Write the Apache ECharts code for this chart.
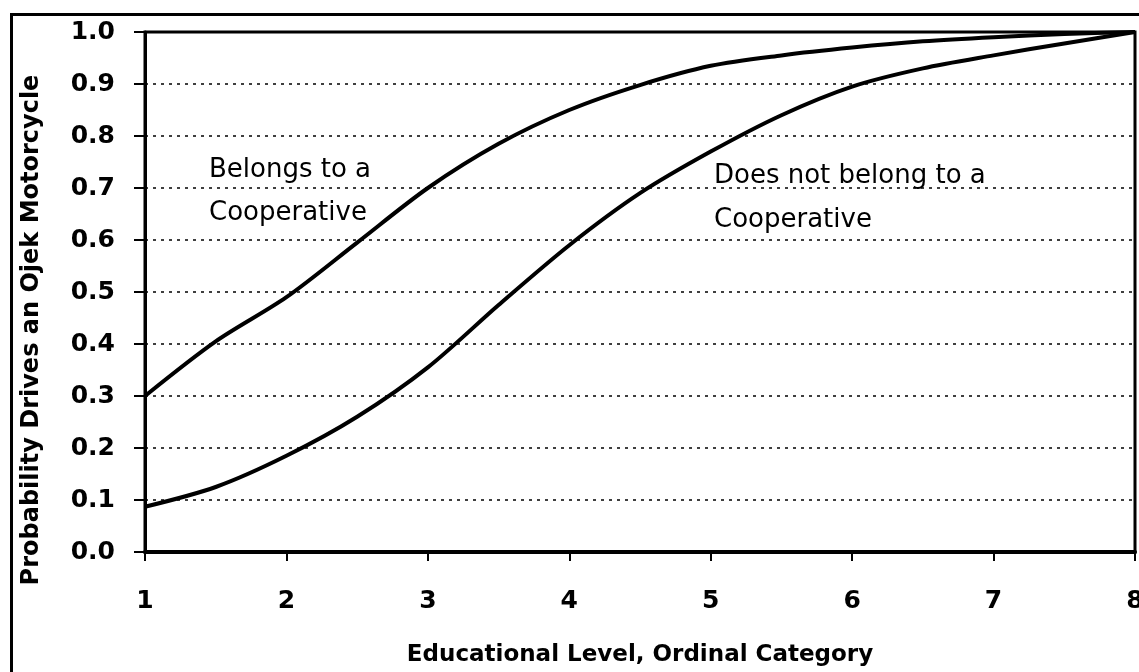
<!DOCTYPE html>
<html>
<head>
<meta charset="utf-8">
<script src="https://cdn.jsdelivr.net/npm/echarts@6/dist/echarts.min.js"></script>
<style>
html,body{margin:0;padding:0;background:#fff;}
#chart{width:1139px;height:672px;}
</style>
</head>
<body>
<div id="chart"></div>
<script>
const educationLevels = [1, 1.5, 2, 2.5, 3, 3.5, 4, 4.5, 5, 5.5, 6, 6.5, 7, 7.5, 8];
const belongsCoop = [0.30, 0.405, 0.49, 0.595, 0.70, 0.785, 0.85, 0.898, 0.935, 0.955, 0.97, 0.982, 0.99, 0.996, 1.0];
const notBelongsCoop = [0.087, 0.125, 0.185, 0.26, 0.355, 0.475, 0.59, 0.69, 0.77, 0.84, 0.895, 0.93, 0.955, 0.978, 1.0];
const xTitle = 'Educational Level, Ordinal Category';
const yTitle = 'Probability Drives an Ojek Motorcycle';
const labelBelongs = ['Belongs to a', 'Cooperative'];
const labelNotBelongs = ['Does not belong to a', 'Cooperative'];

const toPairs = (xs, ys) => xs.map((x, i) => [x, ys[i]]);

const chart = echarts.init(document.getElementById('chart'), null, {renderer: 'canvas'});
const annoStyle = {fontFamily: 'DejaVu Sans', fontSize: 26, fill: '#000', align: 'left', verticalAlign: 'middle'};
const option = {
  backgroundColor: '#fff',
  animation: false,
  grid: {left: 145, right: 4, top: 32, bottom: 120, outerBoundsMode: 'none', containLabel: false, show: true, borderColor: '#000', borderWidth: 3, backgroundColor: 'transparent'},
  xAxis: {
    type: 'value', min: 1, max: 8, interval: 1,
    name: xTitle, nameLocation: 'middle', nameGap: 92,
    nameTextStyle: {fontFamily: 'DejaVu Sans', fontWeight: 'bold', fontSize: 23, color: '#000'},
    axisLine: {show: true, lineStyle: {color: '#000', width: 4}},
    axisTick: {show: true, length: 9, lineStyle: {color: '#000', width: 2}},
    axisLabel: {color: '#000', fontFamily: 'DejaVu Sans', fontWeight: 'bold', fontSize: 25, margin: 37},
    splitLine: {show: false}
  },
  yAxis: {
    type: 'value', min: 0, max: 1, interval: 0.1,
    axisLine: {show: true, lineStyle: {color: '#000', width: 3}},
    axisTick: {show: true, length: 11, lineStyle: {color: '#000', width: 2}},
    axisLabel: {color: '#000', fontFamily: 'DejaVu Sans', fontWeight: 'bold', fontSize: 25, margin: 30, formatter: v => v.toFixed(1)},
    splitLine: {show: true, lineStyle: {color: '#000', width: 1.5, type: [3, 5]}}
  },
  series: [
    {type: 'line', name: 'Belongs to a Cooperative', data: toPairs(educationLevels, belongsCoop), smooth: 0.3, showSymbol: false, lineStyle: {color: '#000', width: 4}},
    {type: 'line', name: 'Does not belong to a Cooperative', data: toPairs(educationLevels, notBelongsCoop), smooth: 0.3, showSymbol: false, lineStyle: {color: '#000', width: 4}}
  ],
  graphic: [
    {type: 'rect', shape: {x: 11.5, y: 14.5, width: 1300, height: 800}, style: {fill: 'none', stroke: '#000', lineWidth: 3}, silent: true, z: 100},
    {type: 'text', x: 32, y: 330, rotation: Math.PI / 2, style: {text: yTitle, fontFamily: 'DejaVu Sans', fontWeight: 'bold', fontSize: 24, fill: '#000', align: 'center', verticalAlign: 'middle'}},
    {type: 'text', x: 209, y: 170, style: Object.assign({text: labelBelongs[0]}, annoStyle)},
    {type: 'text', x: 209, y: 213, style: Object.assign({text: labelBelongs[1]}, annoStyle)},
    {type: 'text', x: 714, y: 176, style: Object.assign({text: labelNotBelongs[0]}, annoStyle)},
    {type: 'text', x: 714, y: 220, style: Object.assign({text: labelNotBelongs[1]}, annoStyle)}
  ]
};
chart.setOption(option);
</script>
</body>
</html>
